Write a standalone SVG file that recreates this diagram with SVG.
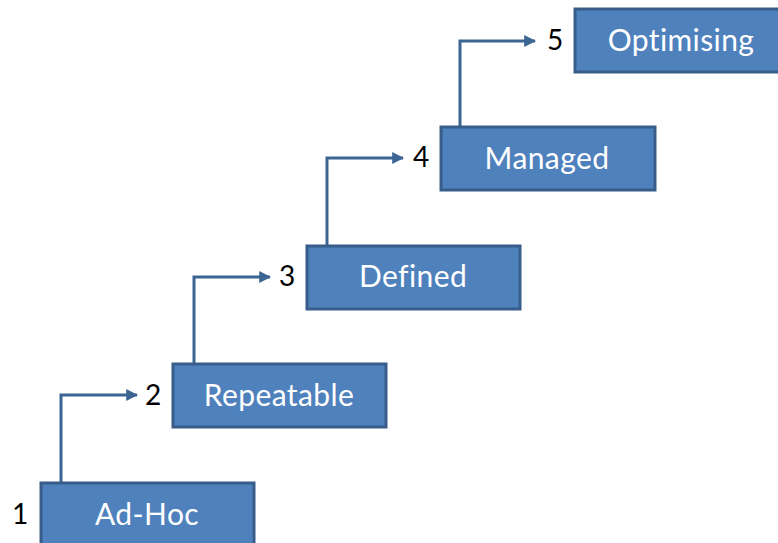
<svg xmlns="http://www.w3.org/2000/svg" width="778" height="543" viewBox="0 0 778 543">
  <defs>
    <marker id="arrow" viewBox="0 0 10 10" refX="9" refY="5" markerWidth="4" markerHeight="4" orient="auto" markerUnits="strokeWidth">
      <path d="M0,0 L10,5 L0,10 Z" fill="#3d6594"/>
    </marker>
  </defs>
  <style>
    .box { fill: #4f81bd; stroke: #385d8a; stroke-width: 3; }
    .label { fill: #ffffff; font-family: Lato, "Liberation Sans", sans-serif; font-size: 30px; letter-spacing: 0.4px; text-anchor: middle; }
    .num { fill: #000000; font-family: Lato, "Liberation Sans", sans-serif; font-size: 28px; text-anchor: middle; }
    .link { fill: none; stroke: #3d6594; stroke-width: 3; marker-end: url(#arrow); }
  </style>
  <rect width="778" height="543" fill="#ffffff"/>

  <g id="connectors">
    <path class="link" d="M61,483 V395 H137"/>
    <path class="link" d="M194,364 V277 H270"/>
    <path class="link" d="M327,246 V158 H403"/>
    <path class="link" d="M460,127 V41 H535"/>
  </g>

  <g id="level1">
    <rect class="box" x="41" y="483" width="213" height="64"/>
    <text class="label" x="147" y="525">Ad-Hoc</text>
    <text class="num" x="20" y="524">1</text>
  </g>
  <g id="level2">
    <rect class="box" x="173" y="364" width="213" height="63"/>
    <text class="label" x="279" y="406">Repeatable</text>
    <text class="num" x="153" y="405">2</text>
  </g>
  <g id="level3">
    <rect class="box" x="307" y="246" width="213" height="63"/>
    <text class="label" x="413" y="287">Defined</text>
    <text class="num" x="287" y="286">3</text>
  </g>
  <g id="level4">
    <rect class="box" x="441" y="127" width="214" height="63"/>
    <text class="label" x="547" y="169">Managed</text>
    <text class="num" x="421" y="167">4</text>
  </g>
  <g id="level5">
    <rect class="box" x="575" y="9" width="214" height="63"/>
    <text class="label" x="681" y="51">Optimising</text>
    <text class="num" x="555" y="50">5</text>
  </g>
</svg>
